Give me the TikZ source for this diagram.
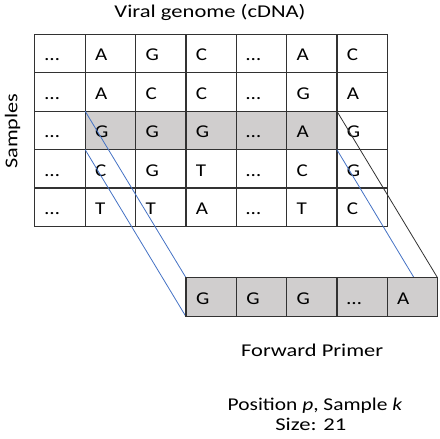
\documentclass[tikz,border=0pt]{standalone}
\usepackage{graphicx}
\usepackage{fontspec}
\setmainfont{Carlito}
\definecolor{gridline}{RGB}{50,50,50}
\definecolor{cellgray}{RGB}{208,206,206}
\definecolor{linkblue}{RGB}{68,114,196}
\newcommand{\wcell}[1]{\scalebox{1.17}[1]{#1}}
\newcommand{\wlabel}[2]{\resizebox{#1}{\height}{#2}}
\begin{document}
\begin{tikzpicture}[x=1pt,y=-1pt,
  cellbox/.style={draw=gridline, line width=1.3pt, rectangle, outer sep=0pt,
    minimum width=50.35pt, minimum height=38.45pt, inner xsep=10pt, inner ysep=0pt,
    text width=30.35pt, align=left, text height=16pt, text depth=1.6pt,
    anchor=north west, font=\fontsize{18}{22}\selectfont},
  hl/.style={fill=cellgray},
  primerbox/.style={cellbox, fill=cellgray, minimum width=50.3pt, text width=30.3pt, minimum height=39pt},
  bluelink/.style={draw=linkblue, line width=0.8pt},
  blacklink/.style={draw=gridline, line width=0.8pt},
  label/.style={font=\fontsize{18}{22}\selectfont, inner sep=0pt, anchor=base}
]
\useasboundingbox (0,0) rectangle (440,439);
% grid rows
\foreach \r/\row in {1/{…,A,G,C,…,A,C},2/{…,A,C,C,…,G,A},4/{…,C,G,T,…,C,G},5/{…,T,T,A,…,T,C}}{
  \foreach \t [count=\c] in \row {
    \node[cellbox] (c-\r-\c) at ({34.8+50.35*(\c-1)},{34.3+38.45*(\r-1)}) {\wcell{\t}};
  }
}
% highlighted row
\node[cellbox] (c-3-1) at (34.8,111.2) {\wcell{…}};
\foreach \t [count=\c from 2] in {G,G,G,…,A}{
  \node[cellbox,hl] (c-3-\c) at ({34.8+50.35*(\c-1)},111.2) {\wcell{\t}};
}
\node[cellbox] (c-3-7) at ({34.8+50.35*6},111.2) {\wcell{G}};
% primer cell corners
\foreach \c in {1,...,5}{
  \coordinate (pnw-\c) at ({186+50.3*(\c-1)},277.7);
}
\coordinate (pne) at (437.5,277.7);
\coordinate (psw) at (186,316.7);
\coordinate (pse) at (437.5,316.7);
% connectors, drawn before the primer so that it covers them
\path[bluelink] (c-3-2.north west) -- (pnw-1);
\path[bluelink] (c-3-2.south west) -- (psw);
\path[bluelink] (c-3-6.south east) -- (pse);
\path[blacklink] (c-3-6.north east) -- (pne);
% primer
\foreach \t [count=\c] in {G,G,G,…,A}{
  \node[primerbox] (p-\c) at (pnw-\c) {\wcell{\t}};
}
% labels
\node[label] (title) at (210,17) {\wlabel{191pt}{Viral genome (cDNA)}};
\node[label, rotate=90] (samples) at (17.3,131.3) {\wlabel{75pt}{Samples}};
\node[label] (fp) at (312.2,356.7) {\wlabel{142pt}{Forward Primer}};
\node[label] (pos) at (315,410) {\wlabel{174.5pt}{Position \textit{p}, Sample \textit{k}}};
\node[label] (size) at (310.8,430.7) {\wlabel{71pt}{Size: 21}};
\end{tikzpicture}
\end{document}
